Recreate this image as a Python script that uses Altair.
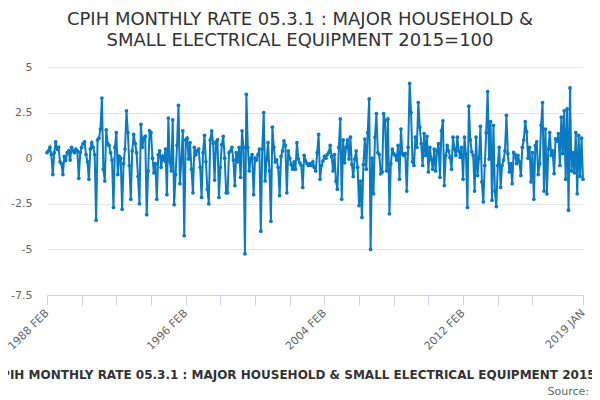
import altair as alt
import pandas as pd

# Monthly rate values (%), 1988 FEB .. 2019 JAN
rate_1988_1990 = [0.3, 0.4, 0.6, 0.2, -0.9, 0.3, 0.9, 0.5, 0.6, -0.2, -0.3, -0.9,
                  0.1, -0.1, 0.3, 0.4, -0.1, 0.6, 0.4, 0.3, 0.5, 0.4, -1.1, 0.3,
                  0.6, 0.8, 0.9, 0.2, -0.2, -1.15, 0.5, 0.85, 0.6, 0.2, -3.4, 1.0]
rate_1991_1993 = [1.1, 1.6, 3.3, -0.6, -1.25, 1.55, 0.8, 0.7, 0.3, -0.1, -2.7, 0.6,
                  1.4, -0.9, 0.1, 0.0, -2.8, -0.3, 0.5, 2.6, 1.4, -0.4, -2.25, 0.4,
                  1.3, 0.8, 0.3, -1.0, -2.5, 1.85, 0.6, 1.1, 1.2, -3.1, -0.7, 1.5]
rate_1994_1997 = [1.4, 0.0, -0.8, -0.3, -2.25, 0.2, 0.4, -0.5, 0.1, -0.1, 0.5, -2.0,
                  2.2, -0.2, -0.7, 2.1, -2.55, -0.9, 0.7, 2.9, -1.4, -0.1, 1.5, -4.25,
                  1.0, 1.1, -0.05, 0.85, -0.6, -1.9, 0.6, 0.2, 0.4, 0.5, -0.5, -2.15,
                  0.3, 1.25, -0.2, -1.7]
rate_1997_2000 = [-2.5, 1.0, 1.5, 0.8, -1.2, 0.9, 1.0, -2.15, -0.5, 0.75, 1.2, 0.0,
                  -1.9, -1.9, 0.3, 0.4, 0.6, -0.1, -1.5, 0.3, -0.2, 0.6, -1.05, 1.5,
                  0.6, -5.25, 3.5, 0.6, -0.7, 0.0, 0.2, -2.0, 0.0, -0.1, 0.2, 0.5]
rate_2000_2003 = [-4.0, 0.5, 2.5, -1.25, -0.1, 0.85, -0.7, -3.45, 1.7, 0.6, -0.2, -0.1,
                  -0.5, -2.05, 0.1, 0.4, 0.95, 0.7, -1.9, 0.4, 0.0, -0.35, -0.6, -0.2,
                  -0.6, 0.85, -0.05, -0.25, -0.4, -1.6, 0.15, -0.15, -0.3, -0.4, -0.3, -0.4]
rate_2003_2006 = [-0.2, -0.5, -0.7, 0.3, 1.3, -1.15, -0.4, -0.15, 0.1, 0.0, 0.2, 0.3,
                  0.7, 0.1, -0.7, 0.2, -1.25, -1.7, 0.6, 2.15, -2.25, 1.0, -0.25, 0.6,
                  1.0, -0.05, 1.15, -0.35, -1.0, -0.05, 0.4, -0.5, -2.6, -1.25, -3.25,
                  -0.35, 1.05, -0.6, 1.4, 3.25, -5.0]
rate_2006_2009 = [0.0, -1.95, 1.15, 2.45, 0.3, 0.2, -0.85, -0.75, 2.45, 2.05, -0.7, 2.15,
                  -3.05, -0.3, 0.5, 0.25, 0.15, -0.1, 0.7, -1.15, 1.6, 0.25, 0.15, 0.25,
                  -1.8, 0.6, 4.1, 2.5, -0.2, -0.4, 1.15, 0.6, 3.05, 1.7, 0.8, -0.4]
rate_2009_2012 = [1.35, 0.15, 1.2, -0.75, 0.6, -0.05, -0.6, 0.5, -0.7, 0.4, 0.8, -1.05,
                  1.5, 2.05, -1.5, 0.15, 0.7, 0.4, 0.05, -0.6, 1.15, 0.5, 0.15, 1.15,
                  0.4, 0.05, 0.6, -1.15, 1.15, 0.2, -2.7, 2.85, 1.0, 0.35, 0.15, -1.8,
                  1.15, -0.95]
rate_2012_2016 = [0.0, 1.75, -1.3, -2.4, -0.4, 1.4, 3.65, -0.05, 2.0, -2.3, 1.8, -1.8,
                  -2.65, -0.4, 0.6, -1.6, -0.4, -0.1, 0.4, 2.35, 0.25, -0.75, -0.3, -1.4,
                  0.3, 0.2, -0.3, 0.15, -0.2, -0.95, 0.6, 1.0, 2.0, 1.45, 0.0, 0.6, -1.3]
rate_2016_2019 = [0.3, -2.25, 0.7, 0.9, -0.9, -0.3, 1.8, 3.05, -1.8, 1.6, -1.95, 0.5,
                  1.4, 0.15, 0.4, -0.85, 1.05, 0.95, 1.35, -0.4, 2.25, 0.25, 2.6, -1.15,
                  2.7, -2.85, 3.85, -0.7, 0.3, -0.8, 1.4, -1.95, 1.25, -1.0, 1.1, -1.15]

values = (rate_1988_1990 + rate_1991_1993 + rate_1994_1997 + rate_1997_2000 +
          rate_2000_2003 + rate_2003_2006 + rate_2006_2009 + rate_2009_2012 +
          rate_2012_2016 + rate_2016_2019)

n = len(values)
months = pd.date_range("1988-02-01", periods=n, freq="MS")
month_labels = [d.strftime("%Y %b").upper() for d in months]

y_ticks = [-7.5, -5, -2.5, 0, 2.5, 5]
title_lines = ["CPIH MONTHLY RATE 05.3.1 : MAJOR HOUSEHOLD &",
               "SMALL ELECTRICAL EQUIPMENT 2015=100"]
x_title = "CPIH MONTHLY RATE 05.3.1 : MAJOR HOUSEHOLD & SMALL ELECTRICAL EQUIPMENT 2015=100"
source_text = ["Source:"]

tick_idx = [i for i in range(0, n, 24) if i <= n - 1 - 24] + [n - 1]
label_idx = [0, 96, 192, 288, n - 1]
label_expr = " : ".join(f"datum.value == {i} ? '{month_labels[i]}'" for i in label_idx) + " : ''"

BLUE = "#0a7ac2"
FONT = "DejaVu Sans"

df = pd.DataFrame({"idx": list(range(n)), "month": month_labels, "value": values})

line = alt.Chart(df).mark_line(
    color=BLUE, strokeWidth=2,
    point=alt.OverlayMarkDef(filled=True, size=14, color=BLUE),
).encode(
    x=alt.X("idx:Q",
            scale=alt.Scale(domain=[0, n - 1], nice=False, zero=False),
            axis=alt.Axis(values=tick_idx, labelExpr=label_expr, labelAngle=-45,
                          labelAlign="right", labelBaseline="middle",
                          labelFontSize=11, labelColor="#666666", labelFont=FONT,
                          labelOverlap=False, labelFlush=False, labelBound=False,
                          labelPadding=6, tickSize=10, tickColor="#ccd6eb",
                          domainColor="#ccd6eb", grid=False,
                          title=x_title, titleFontSize=12, titleFontWeight="bold",
                          titleColor="#333333", titleFont=FONT,
                          titleBaseline="alphabetic", titleY=83, titleX=264,
                          titleAlign="center")),
    y=alt.Y("value:Q",
            scale=alt.Scale(domain=[-7.5, 5], nice=False, zero=False),
            axis=alt.Axis(values=y_ticks, labelExpr="toString(datum.value)",
                          labelFontSize=11, labelColor="#666666", labelFont=FONT,
                          labelPadding=15, tickSize=0, domain=False,
                          gridColor="#e6e6e6", title=None)),
)

source = alt.Chart(pd.DataFrame({"t": source_text})).mark_text(
    align="right", baseline="alphabetic", fontSize=11, color="#666666", font=FONT
).encode(text="t:N", x=alt.value(542), y=alt.value(328))

chart = alt.layer(line, source).properties(
    width=536, height=228,
    title=alt.TitleParams(text=title_lines, fontSize=18, font=FONT, fontWeight="normal",
                          color="#333333", anchor="middle", dx=-15, offset=11,
                          lineHeight=21),
    padding={"left": 39, "top": 59, "right": 9, "bottom": 100},
    autosize="none",
).configure_view(stroke=None)

chart.save("out.html", embed_options={"renderer": "svg", "actions": False})
